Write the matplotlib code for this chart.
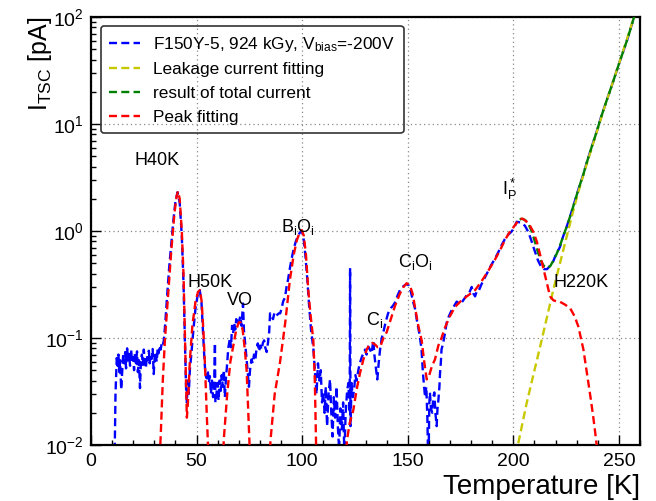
import matplotlib
matplotlib.use('Agg')
import matplotlib.pyplot as plt
from matplotlib.ticker import MultipleLocator
import numpy as np

plt.rcParams['font.family'] = ['Liberation Sans', 'DejaVu Sans']
plt.rcParams['mathtext.fontset'] = 'custom'
plt.rcParams['mathtext.rm'] = 'Liberation Sans'
plt.rcParams['mathtext.it'] = 'Liberation Sans:italic'
plt.rcParams['mathtext.bf'] = 'Liberation Sans:bold'
plt.rcParams['mathtext.default'] = 'regular'

nan = np.nan

# measured TSC spectrum (temperature in K, current in pA)
blue_T = [11.0, 11.6, 12.2, 12.6, 13.0, 13.4, 13.8, 14.3, 14.8, 15.2, 15.7, 16.2, 16.6, 17.1, 17.6,
          18.0, 18.5, 19.0, 19.4, 19.9, 20.4, 20.8, 21.3, 21.8, 22.2, 22.7, 23.2, 23.6, 24.1, 24.6,
          25.0, 25.5, 26.0, 26.4, 26.9, 27.4, 27.8, 28.3, 28.8, 29.2, 29.7, 30.2, 30.6, 31.1, 31.6,
          32.0, 32.5, 33.0, 33.5, 34.0, 34.5, 35.2, 36.0, 37.0, 38.0, 39.0, 40.0, 41.0, 42.0, 43.0,
          43.8, 44.5, 45.0, 45.4, 45.8, 46.3, 46.8, 47.5, 48.5, 49.5, 50.5, 51.5, 52.3, 53.0, 53.6,
          54.2, 54.8, 55.3, 55.8, 56.3, 56.8, 57.3, 57.8, 58.3, 58.7, 58.9, 59.4, 59.9, 60.4, 60.9,
          61.4, 61.9, 62.4, 62.9, 63.4, 63.9, 64.4, 65.0, 65.8, 66.3, 66.8, 67.3, 67.8, 68.3, 68.8,
          69.3, 70.0, 70.7, 71.3, 72.0, 72.4, 73.0, 73.7, 74.3, 74.8, 75.3, 76.0, 76.6, 77.2, 77.8,
          78.4, 79.0, 79.6, 80.2, 80.8, 81.4, 82.0, 82.5, 83.2, 83.8, 84.4, 84.8, 85.5, 86.2, 86.8,
          87.5, 88.2, 89.0, 89.6, 90.3, 91.0, 91.9, 92.6, 93.3, 94.2, 95.0, 96.0, 97.0, 98.0, 99.0,
          99.8, 100.6, 101.5, 102.4, 103.3, 104.2, 105.3, 106.0, 106.8, 107.5, 108.2, 108.8, 109.4,
          110.0, 110.6, 111.2, 111.8, 112.5, 113.2, 113.8, 114.4, 115.0, 115.6, 116.3, 116.9, 117.5,
          118.1, 118.8, 119.4, 120.0, 120.6, 121.3, 121.9, 122.5, 122.7, 122.9, 123.4, 124.0, 124.6,
          125.2, 125.8, 126.6, 127.3, 128.2, 129.0, 129.8, 130.5, 131.3, 132.1, 132.9, 133.7, 134.2,
          134.8, 135.6, 136.3, 136.9, 137.7, 138.4, 139.5, 140.7, 142.0, 143.0, 144.0, 145.2, 146.3,
          147.5, 148.5, 149.5, 150.5, 151.5, 152.5, 153.4, 154.5, 155.5, 156.5, 157.2, 158.2, 158.8,
          159.3, 159.8, 160.2, 160.5, 161.0, 161.6, 162.1, 162.6, 163.1, 163.7, 164.1, 164.5, 165.0,
          165.3, 165.7, 166.0, 166.8, 167.6, 168.4, 169.5, 170.8, 172.0, 173.2, 174.3, 175.5, 176.5,
          177.9, 179.0, 180.3, 181.1, 181.9, 182.6, 183.4, 185.0, 186.6, 188.0, 189.5, 191.3, 193.0,
          194.5, 196.0, 197.5, 199.0, 200.3, 201.6, 203.5, 205.5, 207.1, 208.5, 209.5, 210.5, 211.7,
          213.0, 214.5, 216.0, 217.3, 218.9, 220.0, 221.3, 222.1, 223.5, 225.3, 226.8, 228.4, 231.0,
          233.2, 234.8, 237.0, 239.5, 241.5, 243.7, 247.0, 250.0, 254.0, 257.2, 259.0]
blue_I = [0.004, 0.03, 0.065, 0.055, 0.07, 0.048, 0.062, 0.033, 0.05, 0.068, 0.058, 0.074, 0.052, 0.08, 0.062,
          0.071, 0.055, 0.078, 0.06, 0.066, 0.05, 0.072, 0.058, 0.075, 0.048, 0.062, 0.034, 0.058, 0.07, 0.056,
          0.078, 0.06, 0.052, 0.069, 0.062, 0.076, 0.058, 0.07, 0.064, 0.079, 0.046, 0.068, 0.074, 0.06, 0.081,
          0.072, 0.085, 0.078, 0.09, 0.086, 0.095, 0.14, 0.24, 0.45, 0.75, 1.25, 1.9, 2.3, 1.85, 0.9,
          0.33, 0.09, 0.035, 0.025, 0.04, 0.03, 0.05, 0.07, 0.12, 0.19, 0.25, 0.28, 0.22, 0.12, 0.07,
          0.045, 0.042, 0.05, 0.038, 0.044, 0.03, 0.04, 0.028, 0.035, 0.09, 0.025, 0.03, 0.038, 0.026, 0.04,
          0.032, 0.045, 0.035, 0.05, 0.028, 0.042, 0.055, 0.08, 0.1, 0.082, 0.13, 0.11, 0.14, 0.12, 0.15,
          0.13, 0.14, 0.16, 0.13, 0.21, 0.12, 0.09, 0.063, 0.045, 0.035, 0.05, 0.063, 0.058, 0.07, 0.062,
          0.08, 0.089, 0.075, 0.085, 0.078, 0.09, 0.095, 0.082, 0.074, 0.09, 0.115, 0.17, 0.16, 0.15, 0.17,
          0.16, 0.165, 0.17, 0.17, 0.19, 0.22, 0.24, 0.3, 0.35, 0.45, 0.55, 0.68, 0.8, 0.9, 0.97,
          1.0, 0.88, 0.6, 0.36, 0.2, 0.12, 0.08, 0.05, 0.03, 0.058, 0.04, 0.05, 0.025,
          0.031, 0.02, 0.035, 0.015, 0.03, 0.041, 0.02, 0.012, 0.028, 0.018, 0.035, 0.015, 0.009,
          0.022, 0.014, 0.025, 0.008, 0.02, 0.032, 0.038, 0.02, 0.45, 0.015, 0.038, 0.028, 0.033,
          0.045, 0.04, 0.05, 0.058, 0.066, 0.072, 0.078, 0.07, 0.083, 0.078, 0.072, 0.095, 0.07,
          0.055, 0.041, 0.06, 0.078, 0.1, 0.112, 0.14, 0.17, 0.19, 0.2, 0.215, 0.25, 0.28,
          0.3, 0.31, 0.32, 0.31, 0.27, 0.22, 0.19, 0.14, 0.11, 0.08, 0.047, 0.028, 0.035,
          0.018, 0.005, 0.024, 0.031, 0.022, 0.02, 0.028, 0.031, 0.02, 0.015, 0.022, 0.026, 0.035,
          0.047, 0.06, 0.078, 0.09, 0.11, 0.138, 0.16, 0.182, 0.2, 0.219, 0.21, 0.214, 0.228,
          0.25, 0.26, 0.3, 0.26, 0.245, 0.27, 0.27, 0.32, 0.37, 0.42, 0.48, 0.55, 0.64,
          0.74, 0.84, 0.92, 0.98, 1.06, 1.22, 1.2, 1.12, 0.98, 0.82, 0.71, 0.62, 0.53,
          0.47, 0.44, 0.44, 0.47, 0.52, 0.59, 0.66, 0.71, 0.88, 1.1, 1.35, 1.7, 2.51,
          3.4, 4.37, 6.0, 8.5, 11.5, 15.5, 24.0, 36.3, 61.7, 100.0, 128.0]

# leakage current fit
leak_T = [201.5, 202.4, 206.3, 213.4, 218.9, 224.5, 228.4, 231.0, 234.8, 239.5, 243.7, 250.0, 257.2, 259.0]
leak_I = [0.008, 0.0105, 0.0245, 0.095, 0.28, 0.77, 1.55, 2.4, 4.25, 8.4, 15.4, 36.3, 100.0, 128.0]

# total current (peaks + leakage)
total_T = [203.0, 204.0, 205.5, 207.0, 208.5, 210.0, 211.5, 213.0, 214.5, 216.0, 217.5, 219.0, 220.5,
           222.0, 223.5, 225.3, 226.8, 228.4, 231.0, 233.2, 234.8, 237.0, 239.5, 241.5, 243.7, 247.0,
           250.0, 254.0, 257.2, 259.0]
total_I = [1.28, 1.3, 1.27, 1.18, 1.02, 0.82, 0.65, 0.53, 0.47, 0.45, 0.47, 0.53, 0.61,
           0.72, 0.88, 1.1, 1.35, 1.7, 2.51, 3.4, 4.37, 6.0, 8.5, 11.5, 15.5, 24.0,
           36.3, 61.7, 100.0, 128.0]

# peak fitting (gaps where the fit leaves the plot)
peak_T = [32.3, 33.0, 34.0, 35.0, 36.5, 38.0, 39.5, 40.5, 41.2, 42.0, 43.0, 43.8, 44.5, 45.0, 45.4,
          45.9, 46.8, 48.0, 49.5, 50.7, 51.6, 52.4, 53.2, 54.0, 54.8, 55.6, 56.0, nan,
          62.3, 63.0, 64.5, 66.0, 67.3, 68.8, 70.0, 70.8, 71.8, 72.8, 73.7, 74.5, 75.0, 75.4, nan,
          84.5, 85.0, 87.0, 89.5, 92.0, 94.2, 96.0, 97.5, 98.8, 99.8, 100.8, 101.8, 102.9, 103.9,
          105.3, 106.0, 106.6, 107.0, nan,
          120.6, 121.2, 122.5, 124.2, 125.8, 127.4, 129.0, 130.6, 132.0, 133.2, 134.5, 135.8, 137.0,
          138.5, 140.0, 142.0, 144.0, 146.3, 148.0, 149.5, 151.0, 152.3, 153.4, 155.0, 156.6, 157.8,
          159.0, 160.2, 161.5, 162.9, 164.5, 166.0, 167.7, 170.0, 172.4, 175.0, 178.0, 181.9, 185.0,
          188.0, 191.3, 193.7, 196.0, 198.0, 200.0, 201.7, 203.2, 204.5, 206.0, 207.9, 209.5, 211.1,
          212.7, 214.2, 215.8, 217.4, 219.0, 220.5, 222.1, 224.5, 226.9, 229.0, 230.8, 232.0, 233.2,
          234.4, 235.5, 236.8, 237.9, 238.8, 239.6, 240.3]
peak_I = [0.006, 0.012, 0.04, 0.095, 0.25, 0.65, 1.45, 2.1, 2.35, 2.0, 1.0, 0.4, 0.1, 0.035, 0.018,
          0.025, 0.06, 0.13, 0.22, 0.27, 0.28, 0.22, 0.12, 0.055, 0.02, 0.008, 0.005, nan,
          0.007, 0.012, 0.03, 0.06, 0.083, 0.12, 0.14, 0.14, 0.12, 0.08, 0.05, 0.02, 0.011, 0.007, nan,
          0.007, 0.011, 0.03, 0.059, 0.14, 0.35, 0.6, 0.82, 0.97, 1.02, 0.9, 0.6, 0.28, 0.17,
          0.095, 0.04, 0.01, 0.005, nan,
          0.007, 0.011, 0.016, 0.021, 0.033, 0.047, 0.063, 0.078, 0.088, 0.09, 0.087, 0.082, 0.083,
          0.1, 0.113, 0.15, 0.2, 0.26, 0.3, 0.325, 0.31, 0.26, 0.195, 0.13, 0.095, 0.06,
          0.041, 0.045, 0.055, 0.063, 0.085, 0.1, 0.126, 0.16, 0.195, 0.22, 0.245, 0.28, 0.34,
          0.42, 0.54, 0.66, 0.82, 0.96, 1.08, 1.2, 1.3, 1.3, 1.24, 1.12, 0.98, 0.8,
          0.6, 0.45, 0.33, 0.245, 0.225, 0.22, 0.218, 0.205, 0.19, 0.16, 0.128, 0.1, 0.078,
          0.054, 0.038, 0.026, 0.018, 0.013, 0.0095, 0.007]

# peak labels
label_text = ['H40K', 'H50K', 'VO', r'B$_i$O$_i$', r'C$_i$', r'C$_i$O$_i$', r'I$_P^*$', 'H220K']
label_T = [31.3, 56.4, 70.6, 98.0, 134.5, 153.4, 198.0, 232.0]
label_I = [4.6, 0.327, 0.226, 1.09, 0.148, 0.51, 2.42, 0.327]

fig = plt.figure(figsize=(6.56, 5.01), dpi=100)
ax = fig.add_axes([91 / 656, 1 - 445 / 501, 549 / 656, 428 / 501])
ax.set_yscale('log')

dash = (0, (3.4, 1.8))
ax.plot(blue_T, blue_I, color='#0000ff', lw=1.7, ls=dash, zorder=2,
        label=r'F150Y-5, 924 kGy, V$_{bias}$=-200V')
ax.plot(leak_T, leak_I, color='#c8c800', lw=1.7, ls=dash, zorder=3,
        label='Leakage current fitting')
ax.plot(total_T, total_I, color='#008000', lw=1.7, ls=dash, zorder=4,
        label='result of total current')
ax.plot(peak_T, peak_I, color='#ff0000', lw=1.7, ls=dash, zorder=5,
        label='Peak fitting')

for txt, t, i in zip(label_text, label_T, label_I):
    ax.text(t, i, txt, fontsize=13, ha='center', va='center', zorder=6)

ax.set_xlim(0, 260)
ax.set_ylim(1e-2, 1e2)
ax.xaxis.set_major_locator(MultipleLocator(50))
ax.xaxis.set_minor_locator(MultipleLocator(10))
ax.grid(True, which='major', ls=(0, (1, 2.5)), color='#888888', lw=0.9)
ax.tick_params(which='both', direction='in', top=False, right=False, labelsize=14)
ax.tick_params(which='major', length=7, width=1)
ax.tick_params(which='minor', length=3.5, width=1)
ax.tick_params(axis='x', pad=6)
ax.tick_params(axis='y', pad=5)
for s in ax.spines.values():
    s.set_linewidth(1.6)

ax.set_xlabel('Temperature [K]', loc='right', fontsize=20, labelpad=3)
ax.set_ylabel(r'I$_{TSC}$ [pA]', loc='top', fontsize=18)
ax.yaxis.set_label_coords(-0.068, 1.0)

leg = ax.legend(loc='upper left', bbox_to_anchor=(0.018, 0.979), borderaxespad=0,
                fontsize=12.4, handlelength=1.75, handletextpad=0.8, labelspacing=0.5,
                borderpad=0.5, fancybox=True, framealpha=1)
leg.get_frame().set_facecolor('none')
leg.get_frame().set_edgecolor('#333333')
leg.get_frame().set_linewidth(1.2)

fig.savefig('out.png', dpi=100)
